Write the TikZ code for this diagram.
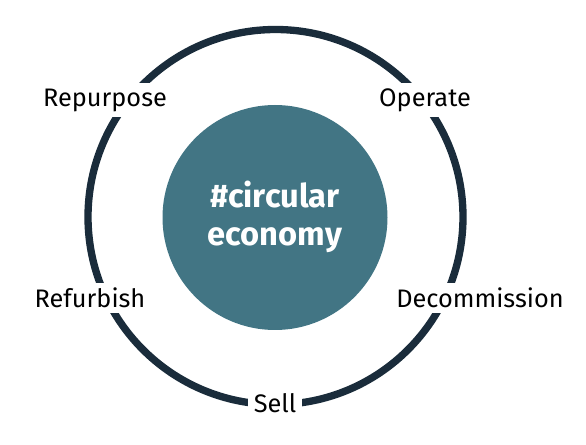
\documentclass[tikz,border=0pt]{standalone}
\usepackage{fontspec}
\setmainfont{Fira Sans}
\definecolor{ringcol}{HTML}{1A2C3B}
\definecolor{hubcol}{HTML}{427584}
\begin{document}
\begin{tikzpicture}[x=0.75pt,y=-0.75pt,
  lbl/.style={fill=white,inner sep=4pt,text=black,font=\fontsize{19}{22}\selectfont},
  hubtext/.style={text=white,align=center,font=\fontsize{24.5}{29}\selectfont\bfseries}]
\useasboundingbox (0,0) rectangle (586,445);
\coordinate (c) at (275.5,217);
\draw[ringcol,line width=5.5pt] (c) circle[radius=187.5];
\fill[hubcol] (275,217.5) circle[radius=112.5];
\node[hubtext] (hub) at (275,217) {\#circular\\economy};
\node[lbl] (repurpose) at (105,100) {Repurpose};
\node[lbl] (operate) at (425,100) {Operate};
\node[lbl] (refurbish) at (90,298) {Refurbish};
\node[lbl] (decom) at (480,298) {Decommission};
\node[lbl] (sell) at (275,403) {Sell};
\end{tikzpicture}
\end{document}
